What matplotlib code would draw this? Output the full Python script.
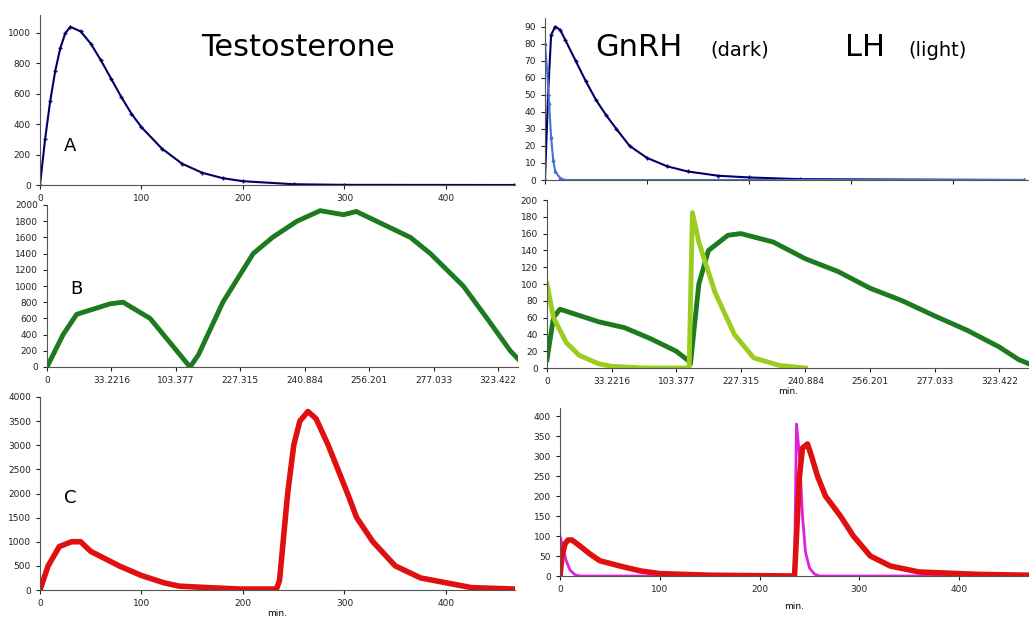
import matplotlib.pyplot as plt

W, H = 1029, 624

# panel A: testosterone
a_t = [0, 5, 10, 15, 20, 25, 30, 40, 50, 60, 70, 80, 90, 100, 120, 140, 160, 180, 200, 250, 300, 467]
a_v = [0, 300, 550, 750, 900, 1000, 1040, 1010, 930, 820, 700, 580, 470, 380, 240, 140, 80, 45, 25, 5, 1, 0]

# panel A right: GnRH (dark) and LH (light)
ga_t = [0, 3, 6, 10, 15, 20, 30, 40, 50, 60, 70, 83, 100, 120, 140, 170, 200, 250, 470]
ga_v = [0, 50, 85, 90, 88, 82, 70, 58, 47, 38, 30, 20, 13, 8, 5, 2.5, 1.5, 0.5, 0]
la_t = [0, 2, 4, 6, 8, 10, 15, 20, 470]
la_v = [80, 65, 45, 25, 12, 5, 1, 0, 0]

# panel B (category axis, index positions)
cat_labels = ['0', '33.2216', '103.377', '227.315', '240.884', '256.201', '277.033', '323.422']
b_x = [0, 0.25, 0.46, 0.98, 1.18, 1.6, 1.91, 2.22, 2.35, 2.73, 3.2, 3.5, 3.88, 4.24, 4.6, 4.8, 5.64, 5.95, 6.46, 6.83, 7.19, 7.31]
b_v = [0, 400, 650, 780, 800, 600, 300, 0, 150, 800, 1400, 1600, 1800, 1930, 1880, 1920, 1600, 1400, 1000, 600, 200, 100]
gb_x = [0, 0.1, 0.2, 0.4, 0.8, 1.2, 1.6, 2.0, 2.2, 2.22, 2.35, 2.5, 2.8, 3.0, 3.5, 4.0, 4.5, 5.0, 5.5, 6.0, 6.5, 7.0, 7.3, 7.46]
gb_v = [10, 60, 70, 65, 55, 48, 35, 20, 8, 5, 100, 140, 158, 160, 150, 130, 115, 95, 80, 62, 45, 25, 10, 5]
lb_x = [0, 0.1, 0.3, 0.5, 0.8, 1.0, 1.5, 2.2, 2.25, 2.35, 2.6, 2.9, 3.2, 3.6, 4.0]
lb_v = [100, 60, 30, 15, 5, 2, 0, 0, 185, 150, 90, 40, 12, 3, 0]

# panel C
c_t = [0, 8, 19, 31, 40, 50, 78, 100, 122, 137, 165, 197, 233, 236, 244, 250, 256, 264, 272, 284, 303, 312, 328, 350, 375, 400, 425, 467]
c_v = [0, 500, 900, 1000, 1000, 800, 500, 300, 150, 80, 50, 20, 20, 200, 2000, 3000, 3500, 3700, 3550, 3000, 2000, 1500, 1000, 500, 250, 150, 50, 20]
gc_t = [0, 2, 5, 8, 12, 20, 30, 40, 60, 80, 100, 150, 235, 237, 240, 243, 248, 252, 258, 266, 281, 294, 311, 331, 360, 420, 470]
gc_v = [0, 50, 80, 90, 90, 75, 55, 38, 25, 13, 6, 2, 0, 100, 250, 320, 330, 300, 250, 200, 150, 100, 50, 25, 10, 4, 2]
lc_t = [0, 3, 6, 10, 15, 20, 235, 236, 237, 240, 243, 246, 250, 255, 260, 470]
lc_v = [100, 70, 40, 15, 3, 0, 0, 200, 380, 300, 150, 60, 20, 5, 0, 0]

fig = plt.figure(figsize=(W / 100, H / 100), dpi=100)


def ax_px(x0, y0, x1, y1):
    ax = fig.add_axes([x0 / W, 1 - y1 / H, (x1 - x0) / W, (y1 - y0) / H])
    for s in ('top', 'right'):
        ax.spines[s].set_visible(False)
    for s in ('left', 'bottom'):
        ax.spines[s].set_color('#555555')
    ax.tick_params(labelsize=6.5, length=3, colors='#222222')
    return ax


ax = ax_px(40, 15, 515, 185)
ax.plot(a_t, a_v, color='#000066', lw=1.5, marker='+', ms=3)
ax.set_xlim(0, 468)
ax.set_ylim(0, 1118)
ax.set_xticks([0, 100, 200, 300, 400])
ax.set_yticks(range(0, 1001, 200))
ax.text(0.05, 0.2, 'A', transform=ax.transAxes, fontsize=13)

ax = ax_px(545, 18, 1029, 180)
ax.plot(ga_t, ga_v, color='#000066', lw=1.5, marker='+', ms=3)
ax.plot(la_t, la_v, color='#4a70d8', lw=1.5, marker='^', ms=2)
ax.set_xlim(0, 475)
ax.set_ylim(0, 95)
ax.set_xticks([0, 100, 200, 300, 400])
ax.set_xticklabels([])
ax.set_yticks(range(0, 91, 10))

ax = ax_px(47, 205, 518, 367)
ax.plot(b_x, b_v, color='#1e7a1e', lw=3.5)
ax.set_xlim(0, 7.31)
ax.set_ylim(0, 2000)
ax.set_xticks(range(8))
ax.set_xticklabels(cat_labels)
ax.set_yticks(range(0, 2001, 200))
ax.text(0.05, 0.45, 'B', transform=ax.transAxes, fontsize=13)

ax = ax_px(547, 200, 1029, 368)
ax.plot(gb_x, gb_v, color='#1e7a1e', lw=3.5)
ax.plot(lb_x, lb_v, color='#9acd1e', lw=3.5)
ax.set_xlim(0, 7.46)
ax.set_ylim(0, 200)
ax.set_xticks(range(8))
ax.set_xticklabels(cat_labels)
ax.set_yticks(range(0, 201, 20))
ax.set_xlabel('min.', fontsize=6.5, labelpad=1)

ax = ax_px(40, 397, 515, 590)
ax.plot(c_t, c_v, color='#e01010', lw=4)
ax.set_xlim(0, 468)
ax.set_ylim(0, 4000)
ax.set_xticks([0, 100, 200, 300, 400])
ax.set_yticks(range(0, 4001, 500))
ax.set_xlabel('min.', fontsize=6.5, labelpad=1)
ax.text(0.05, 0.45, 'C', transform=ax.transAxes, fontsize=13)

ax = ax_px(560, 408, 1029, 576)
ax.plot(lc_t, lc_v, color='#e020e0', lw=2)
ax.plot(gc_t, gc_v, color='#e01010', lw=4)
ax.set_xlim(0, 470)
ax.set_ylim(0, 420)
ax.set_xticks([0, 100, 200, 300, 400])
ax.set_yticks(range(0, 401, 50))
ax.set_xlabel('min.', fontsize=6.5, labelpad=6)

fig.text(298 / W, 1 - 48 / H, 'Testosterone', fontsize=22, ha='center', va='center')
fig.text(595 / W, 1 - 48 / H, 'GnRH', fontsize=22, ha='left', va='center')
fig.text(710 / W, 1 - 50 / H, '(dark)', fontsize=14, ha='left', va='center')
fig.text(845 / W, 1 - 48 / H, 'LH', fontsize=22, ha='left', va='center')
fig.text(908 / W, 1 - 50 / H, '(light)', fontsize=14, ha='left', va='center')

fig.savefig('out.png', dpi=100)
